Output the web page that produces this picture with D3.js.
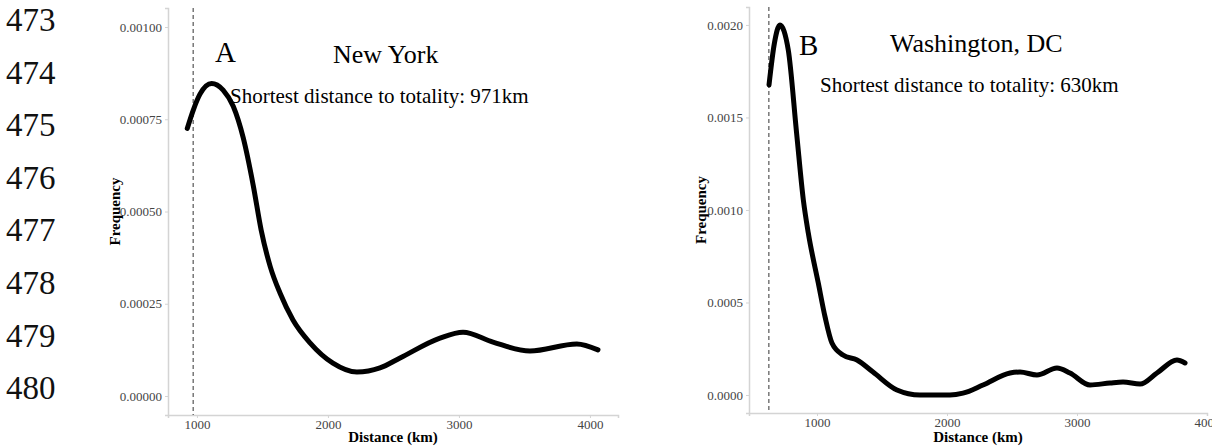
<!DOCTYPE html>
<html>
<head>
<meta charset="utf-8">
<script src="https://cdn.jsdelivr.net/npm/d3@7"></script>
<style>
  body { margin: 0; background: #fff; }
  svg text { font-family: "Liberation Serif", "Times New Roman", serif; }
</style>
</head>
<body>
<div id="chart"></div>
<script>
// manuscript line numbers down the left margin
const lineNumbers = [473, 474, 475, 476, 477, 478, 479, 480];

// panel A, New York
const nyDistance = [926, 972, 1023, 1112, 1200, 1277, 1353, 1430, 1490, 1560, 1634, 1733, 1863, 2038, 2221, 2397, 2550, 2855, 3031, 3260, 3542, 3900, 4061];
const nyFreq = [0.000725, 0.000775, 0.000818, 0.000847, 0.000829, 0.000785, 0.000700, 0.000570, 0.000450, 0.000350, 0.000279, 0.000206, 0.000144, 0.000089, 0.000065, 0.000076, 0.000103, 0.000157, 0.000173, 0.000146, 0.000122, 0.000141, 0.000125];
const nyYTicks = [0, 0.00025, 0.0005, 0.00075, 0.001];
const nyShortest = 971;

// panel B, Washington DC
const dcDistance = [631, 672, 715, 779, 843, 895, 933, 1010, 1062, 1115, 1200, 1308, 1431, 1615, 1792, 2023, 2123, 2277, 2485, 2562, 2692, 2846, 2946, 3100, 3254, 3354, 3485, 3615, 3769, 3831];
const dcFreq = [0.001676, 0.00190, 0.0020, 0.001865, 0.001416, 0.001054, 0.000876, 0.000605, 0.000422, 0.000281, 0.000216, 0.000189, 0.000124, 0.000027, 0.0, 0.0, 0.00001, 0.000054, 0.000119, 0.000124, 0.000108, 0.000146, 0.000119, 0.000054, 0.000065, 0.00007, 0.000059, 0.000119, 0.000189, 0.000173];
const dcYTicks = [0, 0.0005, 0.001, 0.0015, 0.002];
const dcShortest = 630;

const xTicks = [1000, 2000, 3000, 4000];

const W = 1212, H = 446;
const svg = d3.select("#chart").append("svg")
    .attr("width", W)
    .attr("height", H);

// line numbers
svg.append("g")
  .selectAll("text")
  .data(lineNumbers)
  .enter()
  .append("text")
    .attr("x", 6)
    .attr("y", (d, i) => 31 + i * 52.6)
    .style("font-family", '"Liberation Serif", serif')
    .style("font-size", "33px")
    .style("fill", "#111")
    .text(d => d);

function panel(opts) {
  const x = d3.scaleLinear().domain(opts.xDomain).range([opts.left, opts.right]);
  const y = d3.scaleLinear().domain(opts.yDomain).range([opts.bottom, opts.top]);
  const g = svg.append("g");

  // y axis
  const ya = g.append("g")
      .attr("transform", `translate(${opts.left},0)`)
      .call(d3.axisLeft(y).tickValues(opts.yTicks).tickFormat(d3.format(opts.fmt)).tickSize(3).tickPadding(3));
  // x axis
  const xa = g.append("g")
      .attr("transform", `translate(0,${opts.bottom})`)
      .call(d3.axisBottom(x).tickValues(xTicks).tickFormat(d3.format("d")).tickSize(3).tickPadding(2));
  [ya, xa].forEach(a => {
    a.select(".domain").attr("stroke", "#d4d4d4").attr("stroke-width", 1.5);
    a.selectAll(".tick line").attr("stroke", "#d4d4d4");
    a.selectAll(".tick text")
      .style("font-family", '"Liberation Serif", serif')
      .style("font-size", "13px")
      .attr("fill", "#444");
  });

  // dashed marker for shortest distance
  g.append("line")
      .attr("x1", x(opts.shortest)).attr("x2", x(opts.shortest))
      .attr("y1", opts.top).attr("y2", opts.bottom)
      .attr("stroke", "#333")
      .attr("stroke-width", 1)
      .attr("stroke-dasharray", "4,3");

  // density curve
  const line = d3.line()
      .x(d => x(d[0]))
      .y(d => y(d[1]))
      .curve(d3.curveMonotoneX);
  g.append("path")
      .datum(d3.zip(opts.xs, opts.ys))
      .attr("d", line)
      .attr("fill", "none")
      .attr("stroke", "#000")
      .attr("stroke-width", 5)
      .attr("stroke-linecap", "round")
      .attr("stroke-linejoin", "round");

  // axis titles
  g.append("text")
      .attr("x", (opts.left + opts.right) / 2)
      .attr("y", 442)
      .attr("text-anchor", "middle")
      .style("font-size", "15px")
      .style("font-weight", "bold")
      .text("Distance (km)");
  g.append("text")
      .attr("text-anchor", "middle")
      .attr("transform", `translate(${opts.ylabX},${(opts.top + opts.bottom) / 2})rotate(-90)`)
      .style("font-size", "15px")
      .style("font-weight", "bold")
      .text("Frequency");

  // annotations
  g.append("text")
      .attr("x", opts.letterX).attr("y", opts.letterY)
      .style("font-size", "29px")
      .text(opts.letter);
  g.append("text")
      .attr("x", opts.cityX).attr("y", opts.cityY)
      .style("font-size", "26px")
      .text(opts.city);
  g.append("text")
      .attr("x", opts.noteX).attr("y", opts.noteY)
      .style("font-size", "21px")
      .text("Shortest distance to totality: " + opts.shortest + "km");
}

panel({
  xs: nyDistance, ys: nyFreq, yTicks: nyYTicks, fmt: ".5f", shortest: nyShortest,
  xDomain: [779, 4214], yDomain: [-0.0000515, 0.0010515],
  left: 168, right: 618, top: 8, bottom: 415, ylabX: 120,
  letter: "A", letterX: 215, letterY: 62,
  city: "New York", cityX: 333, cityY: 63,
  noteX: 230, noteY: 103
});

panel({
  xs: dcDistance, ys: dcFreq, yTicks: dcYTicks, fmt: ".4f", shortest: dcShortest,
  xDomain: [477, 4000], yDomain: [-0.0000973, 0.002097],
  left: 749, right: 1207, top: 7, bottom: 413, ylabX: 706,
  letter: "B", letterX: 799, letterY: 55,
  city: "Washington, DC", cityX: 890, cityY: 52,
  noteX: 820, noteY: 92
});
</script>
</body>
</html>
